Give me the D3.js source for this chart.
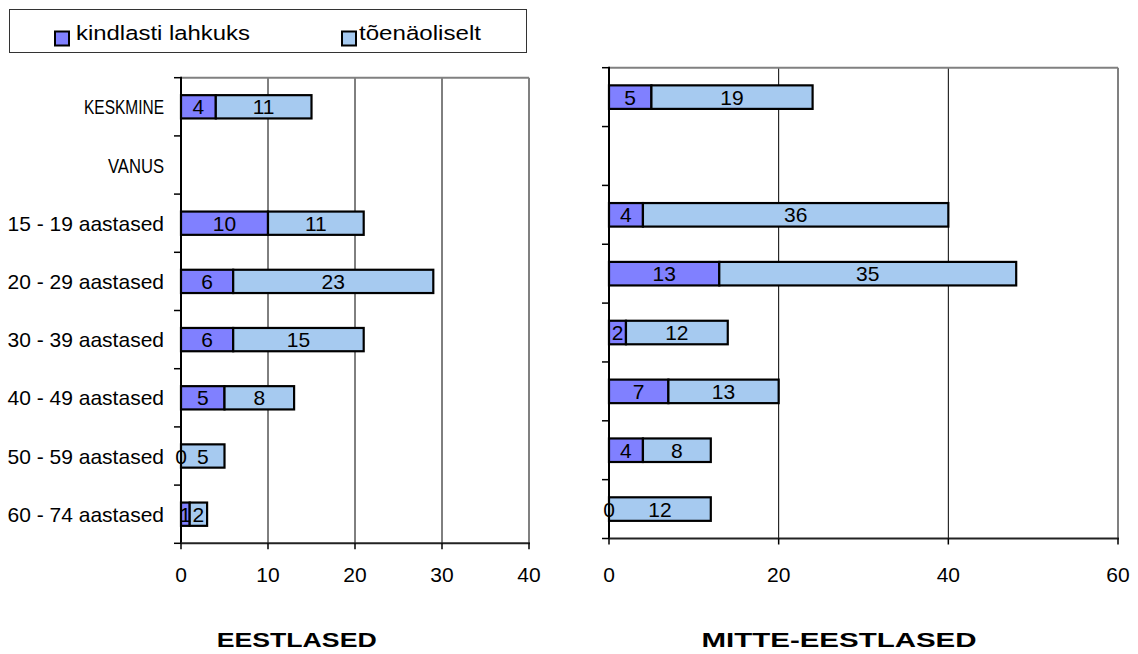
<!DOCTYPE html>
<html>
<head>
<meta charset="utf-8">
<script src="https://cdn.jsdelivr.net/npm/d3@7"></script>
<style>
  html, body { margin: 0; padding: 0; background: #ffffff; }
  svg { display: block; }
  text { font-family: "Liberation Sans", Arial, sans-serif; fill: #000; }
</style>
</head>
<body>
<svg id="chart" width="1138" height="654"></svg>
<script>
// ---- data ----
const categories = ["KESKMINE", "VANUS", "15 - 19 aastased", "20 - 29 aastased", "30 - 39 aastased", "40 - 49 aastased", "50 - 59 aastased", "60 - 74 aastased"];
const seriesNames = ["kindlasti lahkuks", "tõenäoliselt"];
const estonianSure   = [4, null, 10, 6, 6, 5, 0, 1];
const estonianLikely = [11, null, 11, 23, 15, 8, 5, 2];
const otherSure      = [5, null, 4, 13, 2, 7, 4, 0];
const otherLikely    = [19, null, 36, 35, 12, 13, 8, 12];
const leftTicks  = [0, 10, 20, 30, 40];
const rightTicks = [0, 20, 40, 60];
const panelTitles = ["EESTLASED", "MITTE-EESTLASED"];

// ---- styles ----
const colors = ["#8080FF", "#A6CAF0"];
// narrower rendering of the upper-case category labels in the original
const labelWidthOverride = { "KESKMINE": 80, "VANUS": 56 };
const svg = d3.select("#chart");

function drawPanel(cfg) {
  const g = svg.append("g");
  const x = d3.scaleLinear().domain([0, cfg.max]).range([cfg.x0, cfg.x1]);
  const y = d3.scaleBand().domain(categories).range([cfg.y0, cfg.y1]).paddingInner(0.6).paddingOuter(0.3);
  const step = y.step(), bw = y.bandwidth();

  // gridlines
  g.selectAll(".grid").data(cfg.ticks.slice(1, -1)).enter().append("line")
    .attr("x1", d => x(d)).attr("x2", d => x(d))
    .attr("y1", cfg.y0).attr("y2", cfg.y1)
    .attr("stroke", "#000").attr("stroke-width", 1);

  // plot area frame (top & right, grey)
  g.append("line").attr("x1", cfg.x0).attr("x2", cfg.x1).attr("y1", cfg.y0).attr("y2", cfg.y0)
    .attr("stroke", "#808080").attr("stroke-width", 2);
  g.append("line").attr("x1", cfg.x1).attr("x2", cfg.x1).attr("y1", cfg.y0).attr("y2", cfg.y1)
    .attr("stroke", "#808080").attr("stroke-width", 2);

  // bars
  const rows = categories.map((c, i) => ({ c, a: cfg.a[i], b: cfg.b[i] })).filter(r => r.a != null);
  rows.forEach(r => {
    const segs = [
      { s: 0, e: r.a, v: r.a, col: colors[0] },
      { s: r.a, e: r.a + r.b, v: r.b, col: colors[1] }
    ];
    segs.forEach(sg => {
      if (sg.e > sg.s) {
        g.append("rect")
          .attr("x", x(sg.s)).attr("y", y(r.c))
          .attr("width", x(sg.e) - x(sg.s)).attr("height", bw)
          .attr("fill", sg.col).attr("stroke", "#000").attr("stroke-width", 2.2);
      }
    });
    segs.forEach(sg => {
      g.append("text")
        .attr("x", x((sg.s + sg.e) / 2)).attr("y", y(r.c) + bw / 2 + 7.5)
        .attr("text-anchor", "middle").attr("font-size", 21)
        .text(sg.v);
    });
  });

  // left axis
  g.append("line").attr("x1", cfg.x0).attr("x2", cfg.x0).attr("y1", cfg.y0 - 1).attr("y2", cfg.y1)
    .attr("stroke", "#000").attr("stroke-width", 2);
  const bounds = categories.map(c => y(c) - (step - bw) / 2).concat([cfg.y1]);
  g.selectAll(".ytick").data(bounds).enter().append("line")
    .attr("x1", cfg.x0 - 7).attr("x2", cfg.x0).attr("y1", d => d).attr("y2", d => d)
    .attr("stroke", "#000").attr("stroke-width", 1.5);

  // bottom axis
  g.append("line").attr("x1", cfg.x0).attr("x2", cfg.x1 + 1).attr("y1", cfg.y1).attr("y2", cfg.y1)
    .attr("stroke", "#222").attr("stroke-width", 2);
  g.selectAll(".xtick").data(cfg.ticks).enter().append("line")
    .attr("x1", d => x(d)).attr("x2", d => x(d)).attr("y1", cfg.y1).attr("y2", cfg.y1 + 6)
    .attr("stroke", "#000").attr("stroke-width", 1.5);
  g.selectAll(".xlab").data(cfg.ticks).enter().append("text")
    .attr("x", d => x(d)).attr("y", 582)
    .attr("text-anchor", "middle").attr("font-size", 21)
    .text(d => d);

  // category labels
  if (cfg.labels) {
    g.selectAll(".ylab").data(categories).enter().append("text")
      .attr("x", cfg.x0 - 17).attr("y", d => y(d) + bw / 2 + 7.5)
      .attr("text-anchor", "end").attr("font-size", 21)
      .each(function (d) {
        if (labelWidthOverride[d]) {
          d3.select(this).attr("textLength", labelWidthOverride[d]).attr("lengthAdjust", "spacingAndGlyphs");
        }
      })
      .text(d => d);
  }

  // title
  g.append("text")
    .attr("x", cfg.titleX).attr("y", 647)
    .attr("text-anchor", "middle")
    .attr("font-family", "'DejaVu Sans', Verdana, sans-serif")
    .attr("font-weight", "bold").attr("font-size", 20)
    .attr("textLength", cfg.titleLen).attr("lengthAdjust", "spacingAndGlyphs")
    .text(cfg.title);
}

drawPanel({ x0: 181, x1: 529, y0: 77.7, y1: 543.3, max: 40, ticks: leftTicks,
  a: estonianSure, b: estonianLikely, labels: true,
  title: panelTitles[0], titleX: 296.7, titleLen: 160 });
drawPanel({ x0: 609, x1: 1118, y0: 67.7, y1: 538.5, max: 60, ticks: rightTicks,
  a: otherSure, b: otherLikely, labels: false,
  title: panelTitles[1], titleX: 839, titleLen: 275 });

// legend
const lg = svg.append("g");
lg.append("rect").attr("x", 9.5).attr("y", 9.5).attr("width", 517).attr("height", 43)
  .attr("fill", "#fff").attr("stroke", "#333").attr("stroke-width", 1);
const legendItems = [
  { x: 55, tx: 76, len: 174 },
  { x: 342, tx: 359, len: 122 }
];
legendItems.forEach((it, i) => {
  lg.append("rect").attr("x", it.x).attr("y", 31.5).attr("width", 14).attr("height", 14)
    .attr("fill", colors[i]).attr("stroke", "#000").attr("stroke-width", 2);
  lg.append("text").attr("x", it.tx).attr("y", 40)
    .attr("font-size", 20.5)
    .attr("textLength", it.len).attr("lengthAdjust", "spacingAndGlyphs")
    .text(seriesNames[i]);
});
</script>
</body>
</html>
